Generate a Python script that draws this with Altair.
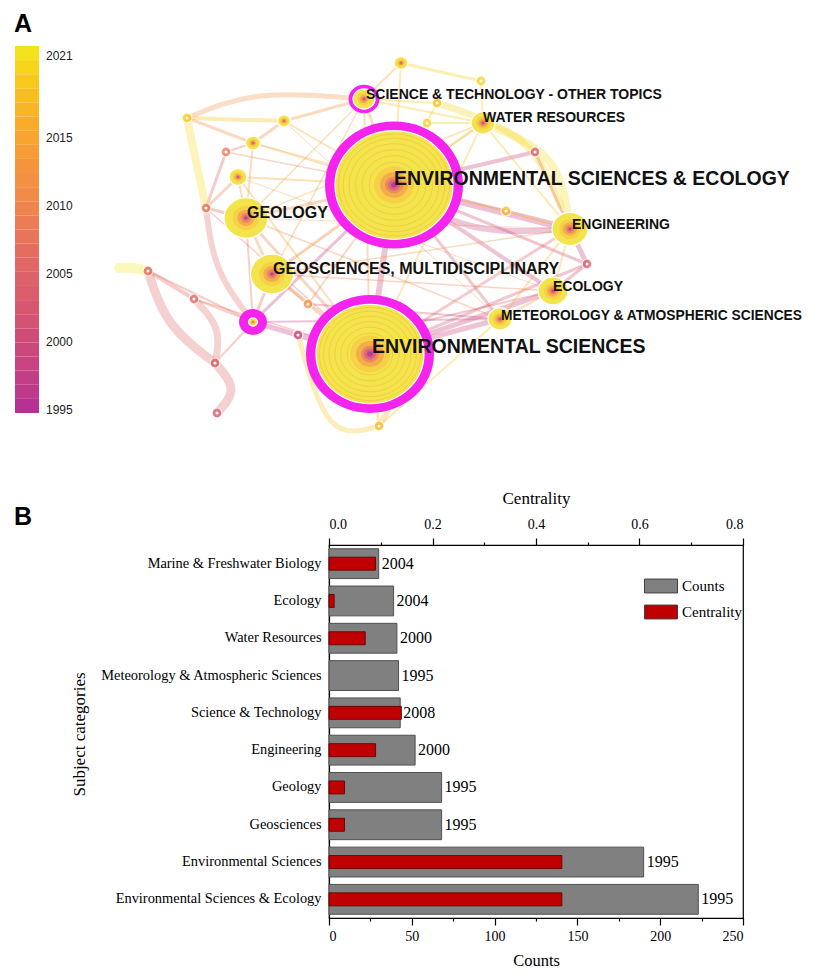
import altair as alt
import pandas as pd

# ---------------- Panel B data ----------------
categories = ["Marine & Freshwater Biology", "Ecology", "Water Resources",
              "Meteorology & Atmospheric Sciences", "Science & Technology",
              "Engineering", "Geology", "Geosciences", "Environmental Sciences",
              "Environmental Sciences & Ecology"]
counts = [30, 39, 41, 42, 43, 52, 68, 68, 190, 223]
centrality = [0.09, 0.01, 0.07, 0.0, 0.14, 0.09, 0.03, 0.03, 0.45, 0.45]
first_year = [2004, 2004, 2000, 1995, 2008, 2000, 1995, 1995, 1995, 1995]

# ---------------- Panel A data ----------------
node_ids = ["ESE", "ES", "ST", "WR", "GEO", "GSC", "ENG", "ECO", "MET", "MAG", "Y1", "Y2", "Y3", "Y4"]
node_x = [393, 369, 363, 482, 245, 271, 569, 552, 499, 252, 400, 283, 252, 237]
node_y = [184, 353, 98, 122, 217, 273, 228, 290, 318, 321, 62, 120, 142, 176]
node_r = [59, 54, 11, 12, 22, 21.5, 18, 15, 12, 4.5, 7, 6.5, 7.5, 9]
node_ring = [69, 64, 15.5, 0, 0, 0, 0, 0, 0, 14, 0, 0, 0, 0]

tiny_ids = ["t1", "t2", "t3", "t4", "t5", "t6", "t7", "t8", "t9", "t10", "t11", "t12", "t13", "t14", "t15", "t16", "t17"]
tiny_x = [186, 225, 205, 147, 193, 214, 216, 297, 307, 373, 378, 534, 586, 436, 480, 505, 426]
tiny_y = [117, 151, 207, 270, 298, 362, 412, 334, 303, 332, 425, 151, 263, 102, 80, 210, 122]
tiny_year = [2019, 2008, 2007, 2006, 2006, 2005, 2004, 2000, 2012, 2016, 2017, 2003, 2004, 2018, 2019, 2017, 2019]

label_text = ["ENVIRONMENTAL SCIENCES & ECOLOGY", "ENVIRONMENTAL SCIENCES",
              "SCIENCE & TECHNOLOGY - OTHER TOPICS", "WATER RESOURCES", "GEOLOGY",
              "GEOSCIENCES, MULTIDISCIPLINARY", "ENGINEERING", "ECOLOGY",
              "METEOROLOGY & ATMOSPHERIC SCIENCES"]
label_x = [393, 371, 365, 482, 246, 272, 571, 552, 500]
label_y = [178, 346, 94, 117, 212, 268, 224, 286, 315]
label_size = [19.5, 19.5, 14, 14, 16, 16, 14, 14, 13.8]

panel_letters = ["A", "B"]
letter_x = [13, 13]
letter_y = [31, 524]

colorbar_years = [1995, 2000, 2005, 2010, 2015, 2021]
colorbar_bands = list(range(1995, 2021))
year_stops = [1995, 1997, 2000, 2002, 2005, 2007, 2010, 2012, 2015, 2018, 2021]
year_colors = ["#b02f97", "#c03d88", "#cc4a7a", "#d4566f", "#dd6468", "#e6705c",
               "#ef8a4a", "#f39240", "#f7a82c", "#f8c21f", "#f2e81e"]

edges = [
    ("ESE", "ES", 2000, 6), ("ESE", "GEO", 2012, 3), ("ESE", "GSC", 2010, 3),
    ("ESE", "ENG", 1998, 7), ("ESE", "ECO", 2000, 4), ("ESE", "MET", 2003, 3),
    ("ESE", "WR", 2016, 3), ("ESE", "ST", 2013, 3), ("ESE", "MAG", 1998, 3),
    ("ESE", "Y2", 2015, 2), ("ESE", "Y3", 2014, 2), ("ESE", "Y4", 2015, 2),
    ("ESE", "t12", 1999, 4), ("ESE", "t13", 2001, 3), ("ESE", "Y1", 2017, 2),
    ("ESE", "t14", 2019, 2), ("ESE", "t16", 2015, 2), ("ESE", "t9", 2010, 2),
    ("ES", "GEO", 2009, 3), ("ES", "GSC", 2008, 4), ("ES", "ENG", 2005, 3),
    ("ES", "ECO", 1999, 5), ("ES", "MET", 2000, 5), ("ES", "WR", 2017, 2),
    ("ES", "ST", 2012, 2), ("ES", "t8", 1998, 6), ("ES", "t11", 2016, 3),
    ("ES", "Y4", 2014, 2), ("ES", "t13", 2002, 3), ("ES", "t10", 2012, 1.5),
    ("GEO", "GSC", 2011, 3), ("GEO", "Y4", 2012, 2), ("GEO", "t3", 2006, 3),
    ("GEO", "Y3", 2013, 2), ("GEO", "ST", 2014, 1.5), ("GEO", "MET", 2010, 1.5),
    ("GSC", "MAG", 2006, 3), ("GSC", "t9", 2012, 2), ("GSC", "ECO", 2009, 1.5),
    ("GSC", "ENG", 2012, 1.5), ("ENG", "t13", 1999, 5), ("ENG", "WR", 2018, 2),
    ("ENG", "ECO", 2016, 2), ("ENG", "t16", 2017, 2), ("ENG", "t12", 2002, 3),
    ("ENG", "MET", 2016, 2), ("ECO", "MET", 2014, 2), ("ECO", "t13", 2001, 3),
    ("WR", "t15", 2019, 2), ("WR", "ST", 2018, 2), ("WR", "t17", 2019, 2),
    ("WR", "GEO", 2015, 1.5), ("ST", "Y1", 2015, 2), ("ST", "Y2", 2012, 3),
    ("ST", "t14", 2018, 2), ("ST", "GSC", 2013, 1.5), ("Y2", "Y3", 2010, 3),
    ("Y3", "t1", 2011, 3), ("t1", "Y2", 2018, 4), ("t2", "Y3", 2006, 2),
    ("t3", "t2", 2005, 3), ("t3", "Y4", 2008, 3), ("t4", "t5", 2006, 4),
    ("t4", "MAG", 2006, 2), ("t5", "MAG", 2008, 2), ("t6", "MAG", 2007, 2),
    ("MAG", "t8", 1998, 5), ("MAG", "GEO", 2007, 2), ("MAG", "MET", 1999, 2),
    ("t9", "MET", 2001, 2), ("t10", "ECO", 2003, 2), ("t11", "MET", 2018, 2),
    ("Y1", "t15", 2019, 3), ("GEO", "ENG", 2013, 1), ("GSC", "WR", 2016, 1),
    ("Y4", "ECO", 2012, 1), ("Y3", "ENG", 2015, 1), ("Y2", "MET", 2011, 1),
    ("t2", "ESE", 2009, 1.5), ("t3", "ES", 2007, 1.5), ("t5", "ES", 2006, 1.5),
]

arc_year = [2021, 2005, 2006, 2005, 2020, 2006, 2012, 2020, 2016, 1998, 2019, 2018]
arc_w = [10, 9, 7, 9, 8, 6, 5, 8, 6, 6, 7, 5]
arc_pts = [
    [(118, 267), (132, 267), (147, 270)],
    [(147, 270), (170, 322), (214, 362)],
    [(193, 298), (215, 328), (214, 362)],
    [(214, 362), (230, 388), (216, 412)],
    [(186, 117), (196, 165), (205, 207)],
    [(205, 207), (218, 268), (252, 321)],
    [(186, 117), (260, 95), (363, 98)],
    [(482, 122), (548, 160), (569, 228)],
    [(369, 353), (388, 395), (378, 425)],
    [(393, 184), (470, 225), (569, 228)],
    [(436, 102), (520, 140), (560, 205)],
    [(378, 425), (330, 420), (297, 334)],
]

# ---------------- tables ----------------
pos = {k: (x, y) for k, x, y in zip(node_ids, node_x, node_y)}
pos.update({k: (x, y) for k, x, y in zip(tiny_ids, tiny_x, tiny_y)})

edf = pd.DataFrame([{"x1": pos[a][0], "y1": pos[a][1], "x2": pos[b][0], "y2": pos[b][1],
                     "year": yr, "w": w} for a, b, yr, w in edges])

arc_rows = []
for i, pts in enumerate(arc_pts):
    for k, (px, py) in enumerate(pts):
        arc_rows.append({"arc": i, "k": k, "x": px, "y": py, "year": arc_year[i], "w": arc_w[i]})
adf = pd.DataFrame(arc_rows)

tdf = pd.DataFrame({"x": tiny_x, "y": tiny_y, "year": tiny_year})

# tree-ring styling of each node: (fraction of radius, cap in px, colour, opacity)
MAGENTA = "#f523ee"
ring_style = [(1.0, 999, "#f4e44c", 1.0),
              (0.6, 20, "#f6c444", 0.6),
              (0.4, 14, "#f2a04a", 0.7),
              (0.25, 9, "#e87a62", 0.7),
              (0.14, 6, "#d85a88", 0.8),
              (0.06, 3, "#b43aa0", 0.9)]
node_rows = []
order = 0
for i, nid in enumerate(node_ids):
    if node_ring[i] > 0:
        node_rows.append({"o": order, "x": node_x[i], "y": node_y[i], "s": (2 * node_ring[i]) ** 2,
                          "c": MAGENTA, "sw": 0, "op": 1.0})
        order += 1
    for f, cap, c, op in ring_style:
        rr = min(f * node_r[i], cap)
        node_rows.append({"o": order, "x": node_x[i], "y": node_y[i], "s": (2 * rr) ** 2,
                          "c": c, "sw": 1.2 if f == 1.0 else 0, "op": op})
        order += 1
ndf = pd.DataFrame(node_rows)

ring_line_frac = [0.42, 0.54, 0.65, 0.76, 0.86, 0.94]
rl_rows = []
for i, nid in enumerate(node_ids):
    if node_r[i] > 40:
        for f in ring_line_frac:
            rl_rows.append({"x": node_x[i], "y": node_y[i], "s": (2 * f * node_r[i]) ** 2})
rldf = pd.DataFrame(rl_rows)

ldf = pd.DataFrame({"t": label_text, "x": label_x, "y": label_y, "fs": label_size})
pdf = pd.DataFrame({"t": panel_letters, "x": letter_x, "y": letter_y})
cbdf = pd.DataFrame({"yr": colorbar_bands})
cbldf = pd.DataFrame({"yr": colorbar_years})

# ---------------- Panel A ----------------
ELLIPSE = "M-1,0A1,0.92,0,1,1,1,0A1,0.92,0,1,1,-1,0Z"
xA = alt.Scale(domain=[328, 742], nice=False, zero=False)
yA = alt.Scale(domain=[440, 8], nice=False, zero=False)
col_scale = alt.Scale(domain=year_stops, range=year_colors, type="linear")

edge_layer = alt.Chart(edf).mark_rule(opacity=0.33, strokeCap="round").encode(
    x=alt.X("x1:Q", scale=xA, axis=None),
    y=alt.Y("y1:Q", scale=yA, axis=None),
    x2="x2:Q", y2="y2:Q",
    color=alt.Color("year:Q", scale=col_scale, legend=None),
    strokeWidth=alt.StrokeWidth("w:Q", scale=None),
)

arc_layer = alt.Chart(adf).mark_line(opacity=0.3, interpolate="natural", strokeCap="round").encode(
    x=alt.X("x:Q", scale=xA, axis=None),
    y=alt.Y("y:Q", scale=yA, axis=None),
    detail="arc:N",
    order="k:O",
    color=alt.Color("year:Q", scale=col_scale, legend=None),
    strokeWidth=alt.StrokeWidth("w:Q", scale=None),
)

tiny_layer = alt.Chart(tdf).mark_point(filled=True, shape="circle", size=100, opacity=0.75,
                                        stroke="white", strokeWidth=1.2).encode(
    x=alt.X("x:Q", scale=xA, axis=None),
    y=alt.Y("y:Q", scale=yA, axis=None),
    color=alt.Color("year:Q", scale=col_scale, legend=None),
)
tiny_dot = alt.Chart(tdf).mark_point(filled=True, shape="circle", size=10, color="white", opacity=1).encode(
    x=alt.X("x:Q", scale=xA, axis=None),
    y=alt.Y("y:Q", scale=yA, axis=None),
)

node_layer = alt.Chart(ndf).mark_point(filled=True, shape=ELLIPSE, stroke="white").encode(
    x=alt.X("x:Q", scale=xA, axis=None),
    y=alt.Y("y:Q", scale=yA, axis=None),
    size=alt.Size("s:Q", scale=None),
    fill=alt.Fill("c:N", scale=None),
    strokeWidth=alt.StrokeWidth("sw:Q", scale=None),
    opacity=alt.Opacity("op:Q", scale=None),
    order="o:Q",
)

ringline_layer = alt.Chart(rldf).mark_point(filled=False, shape=ELLIPSE, stroke="#efb43e",
                                            strokeWidth=0.9, opacity=0.5).encode(
    x=alt.X("x:Q", scale=xA, axis=None),
    y=alt.Y("y:Q", scale=yA, axis=None),
    size=alt.Size("s:Q", scale=None),
)

label_layer = alt.Chart(ldf).mark_text(font="Liberation Sans", fontWeight="bold", align="left",
                                       baseline="middle", color="#111111").encode(
    x=alt.X("x:Q", scale=xA, axis=None),
    y=alt.Y("y:Q", scale=yA, axis=None),
    text="t:N",
    size=alt.Size("fs:Q", scale=None),
)

letter_layer = alt.Chart(pdf).mark_text(font="Liberation Sans", fontWeight="bold", align="left",
                                        baseline="alphabetic", fontSize=25, color="black").encode(
    x=alt.X("x:Q", scale=xA, axis=None),
    y=alt.Y("y:Q", scale=yA, axis=None),
    text="t:N",
)

# colour bar (year scale) and its labels
cb_layer = alt.Chart(cbdf).transform_calculate(
    yr2="datum.yr + 1", mid="datum.yr + 0.5").mark_rect(strokeWidth=0).encode(
    x=alt.datum(14, scale=xA),
    x2=alt.datum(38),
    y=alt.Y("yr:Q", scale=alt.Scale(domain=[1995, 2021], range=[404, 37], nice=False, zero=False),
            axis=None),
    y2="yr2:Q",
    color=alt.Color("mid:Q", scale=col_scale, legend=None),
)
cb_label_layer = alt.Chart(cbldf).mark_text(font="Liberation Sans", fontSize=12, color="#222222",
                                            align="left", baseline="middle").encode(
    x=alt.datum(45, scale=xA),
    y=alt.Y("yr:Q", scale=alt.Scale(domain=[1995, 2021], range=[401, 47], nice=False, zero=False),
            axis=None),
    text=alt.Text("yr:Q", format="d"),
)

panelA = alt.layer(edge_layer, arc_layer, tiny_layer, tiny_dot, node_layer, ringline_layer,
                   label_layer, letter_layer, cb_layer, cb_label_layer).resolve_scale(
    y="independent").properties(
    width=414, height=432, view=alt.ViewBackground(stroke="transparent"))

# ---------------- Panel B ----------------
serif = "Liberation Serif"
dfB = pd.DataFrame({"category": categories, "counts": counts,
                    "centrality": centrality, "year": first_year})

axis_style = dict(labelFont=serif, labelFontSize=14, labelColor="black",
                  titleFont=serif, titleFontSize=17, titleFontWeight="normal", titleColor="black",
                  domainColor="black", domainWidth=1.2, tickColor="black", tickWidth=1.2, grid=False)

yB = alt.Y("category:N", sort=categories,
           scale=alt.Scale(paddingInner=0.2, paddingOuter=0.1),
           axis=alt.Axis(title="Subject categories", ticks=False, tickSize=0, labelPadding=8,
                         titleX=-241, titleY=189, titleAngle=270, titleBaseline="bottom",
                         titleAlign="center",
                         labelLimit=320, **{**axis_style, "labelFontSize": 14.4}))

counts_axis = alt.Axis(orient="bottom", title="Counts", values=list(range(0, 251, 25)),
                       labelExpr="datum.value % 50 === 0 ? datum.label : ''",
                       tickSize={"condition": {"test": "datum.value % 50 === 0", "value": 7}, "value": 3},
                       labelPadding=4, titlePadding=9, **{**axis_style, "titleFontSize": 16.5})
cent_axis = alt.Axis(orient="top", title="Centrality",
                     values=[0, 0.1, 0.2, 0.3, 0.4, 0.5, 0.6, 0.7, 0.8], format=".1f",
                     labelExpr="round(datum.value * 10) % 2 === 0 ? datum.label : ''",
                     tickSize={"condition": {"test": "round(datum.value * 10) % 2 === 0", "value": 7}, "value": 3},
                     labelPadding=7, titlePadding=10, **axis_style)

leg_scale = alt.Scale(domain=["Counts", "Centrality"], range=["#808080", "#c00000"])
legB = alt.Legend(orient="none", legendX=315, legendY=24, title=None,
                  symbolType="M-1,-0.42L1,-0.42L1,0.42L-1,0.42Z", symbolSize=1089,
                  symbolStrokeColor="#404040", symbolStrokeWidth=1, symbolOpacity=1,
                  labelFont=serif, labelFontSize=15, labelColor="black", labelOffset=4,
                  rowPadding=-7, padding=0)

gray = alt.Chart(dfB).transform_calculate(kind="'Counts'").mark_bar(
    stroke="#505050", strokeWidth=1).encode(
    y=yB,
    x=alt.X("counts:Q", scale=alt.Scale(domain=[0, 250], nice=False), axis=counts_axis),
    color=alt.Color("kind:N", scale=leg_scale, legend=legB),
)
red = alt.Chart(dfB).transform_calculate(kind="'Centrality'").transform_filter(
    "datum.centrality > 0").mark_bar(
    size=13, stroke="#500000", strokeWidth=0.8).encode(
    y=yB,
    x=alt.X("centrality:Q", scale=alt.Scale(domain=[0, 0.8], nice=False), axis=cent_axis),
    color=alt.Color("kind:N", scale=leg_scale, legend=legB),
)
txt = alt.Chart(dfB).mark_text(align="left", baseline="middle", dx=3, font=serif,
                               fontSize=16, color="black").encode(
    y=yB,
    x=alt.X("counts:Q", scale=alt.Scale(domain=[0, 250], nice=False), axis=None),
    text=alt.Text("year:Q", format="d"),
)

panelB = alt.layer(gray, red, txt).resolve_scale(x="independent").properties(
    width=414, height=373,
    view=alt.ViewBackground(stroke="black", strokeWidth=1.2))

chart = alt.vconcat(panelA, panelB, spacing=104, bounds="flush").resolve_scale(
    color="independent").properties(
    padding={"left": 5, "top": 0, "right": 0, "bottom": 0}
).configure(background="white")

chart.save("out.html", embed_options={"renderer": "svg", "actions": False})
